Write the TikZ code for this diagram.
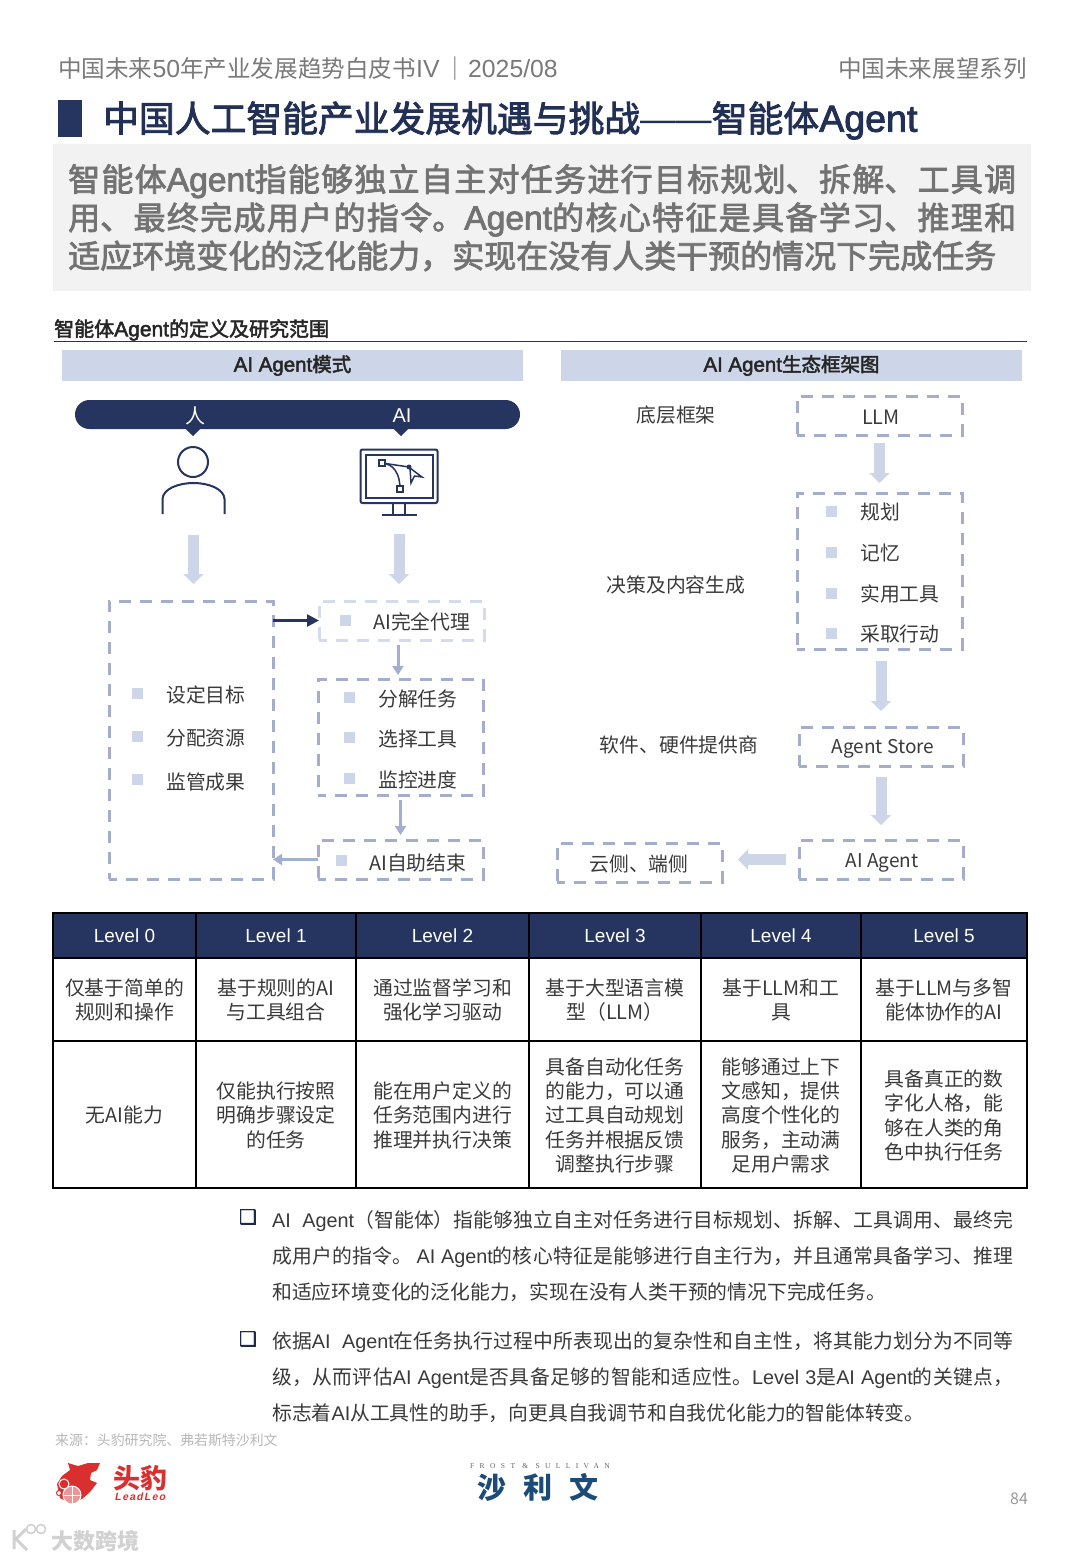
\documentclass[tikz,border=0pt]{standalone}
\usepackage{fontspec}
\setmainfont{Noto Sans CJK SC}
\XeTeXlinebreaklocale "zh"
\XeTeXlinebreakskip=0pt plus 2pt
\newfontfamily\medfont[FakeBold=2.4]{Noto Sans CJK SC}
\newfontfamily\latfont{Liberation Sans}
\newfontfamily\latwide[Scale=1.05]{Liberation Sans}
\newfontfamily\latmed[Scale=1.05,FakeBold=2.4]{Liberation Sans}
\newfontfamily\symbfont[FakeBold=1.5]{DejaVu Sans}
\newfontfamily\frostfont[LetterSpace=72]{Liberation Serif}
\newfontfamily\leofont[FakeSlant=0.2,LetterSpace=12]{Liberation Sans Bold}
\usetikzlibrary{arrows.meta}
\definecolor{navy}{HTML}{26355F}
\definecolor{paleblue}{HTML}{CDD5E8}
\definecolor{dashblue}{HTML}{A4AECC}
\definecolor{thinblue}{HTML}{A3AFD0}
\definecolor{bodytext}{HTML}{3A3A3A}
\definecolor{leored}{HTML}{D9302F}
\definecolor{frostblue}{HTML}{1D4B78}
\newcommand{\fs}[2]{\fontsize{#1}{#2}\selectfont}
\tikzset{
  dashbox/.style={draw=dashblue, line width=3pt, dash pattern=on 12pt off 9pt, dash phase=4pt, inner sep=0pt, outer sep=0pt},
  blockarrow/.style={paleblue, line width=11pt, -{Triangle[length=10pt, width=20pt]}},
  thinarrow/.style={thinblue, line width=3pt, -{Triangle[length=9pt, width=11pt]}},
  sqmark/.style={fill=paleblue, inner sep=0pt, minimum size=11pt},
  itemtext/.style={anchor=west, yshift=-0.5pt, inner sep=0pt, text=bodytext, font=\fs{19.8}{24}},
  centertext/.style={yshift=-0.5pt, inner sep=0pt, text=bodytext, font=\fs{19.8}{24}},
  headbar/.style={fill=paleblue, minimum width=461pt, minimum height=31pt, inner sep=0pt, text=black!85, font=\fs{19.5}{24}\medfont},
  headcell/.style={draw=black, line width=2.4pt, fill=navy, text=white, inner sep=0pt, minimum height=45pt, font=\fs{19}{24}\latfont},
  cell/.style={draw=black, line width=2.4pt, align=center, inner sep=0pt, text=bodytext, font=\fs{19.8}{24.3}},
  para/.style={anchor=north west, inner sep=0pt, text width=741pt, align=justify, text=bodytext, font=\fs{19.8}{36}},
  tickmark/.style={inner sep=0pt, text=navy!80!black, font=\symbfont\fs{20}{22}},
  iconline/.style={navy, line width=2pt}
}
\begin{document}
\begin{tikzpicture}[x=1pt,y=-1pt]
\useasboundingbox (0,0) rectangle (1080,1559);
\fill[white] (0,0) rectangle (1080,1559);

\node[anchor=west, inner sep=0pt, text=black!52, font=\fs{23.6}{28}] (doctitle) at (58,68.5) {中国未来{\latwide 50}年产业发展趋势白皮书{\latwide IV}\kern4pt｜\kern1pt{\latwide 2025/08}};
\node[anchor=east, inner sep=0pt, text=black!52, font=\fs{23.6}{28}] (series) at (1027,68.5) {中国未来展望系列};
\fill[navy] (58,100) rectangle (82,137);
\node[anchor=west, inner sep=0pt, text=navy!90!black, font=\fs{35.8}{40}\medfont] (pagetitle) at (103,120.5) {中国人工智能产业发展机遇与挑战{\latfont ——}智能体{\latmed Agent}};
\fill[black!5] (53,144) rectangle (1031,291);
\node[anchor=north west, inner sep=0pt, text width=948pt, align=justify, text=black!55, font=\fs{32}{38.3}\medfont] (summary) at (68,164) {智能体{\latmed Agent}指能够独立自主对任务进行目标规划、拆解、工具调\linebreak 用、最终完成用户的指令。{\latmed Agent}的核心特征是具备学习、推理和\linebreak 适应环境变化的泛化能力，实现在没有人类干预的情况下完成任务};

\node[anchor=west, inner sep=0pt, text=black!85, font=\fs{20}{22}\medfont] (section) at (54,330) {智能体{\latmed Agent}的定义及研究范围};
\draw[navy, line width=1pt] (54,341) -- (1027,341);
\node[headbar] (modebar) at (292.5,365.5) {\raisebox{-2.5pt}{{\latmed AI Agent}模式}};
\node[headbar] (ecobar) at (791.5,365.5) {\raisebox{-2.5pt}{{\latmed AI Agent}生态框架图}};

\node[fill=navy, rounded corners=14.5pt, minimum width=445pt, minimum height=29pt, inner sep=0pt] (pill) at (297.5,414.5) {};
\fill[navy] (186,429) -- (193,424) -- (200,429) -- (193,436) -- cycle;
\fill[navy] (394,429) -- (401,424) -- (408,429) -- (401,436) -- cycle;
\node[text=white, inner sep=0pt, font=\fs{20}{24}] (human) at (195,416) {人};
\node[text=white, inner sep=0pt, font=\fs{20}{24}\latfont] (ai) at (402,416) {AI};

\node[minimum width=62pt, minimum height=68pt, inner sep=0pt] (person) at (193.5,481) {};
\draw[iconline] (193,462) circle (15);
\draw[iconline] (162.5,514) -- (162.5,499) .. controls (163,489) and (178,483) .. (193.5,483) .. controls (209,483) and (224,489) .. (224.5,499) -- (224.5,514);

\node[minimum width=78pt, minimum height=66pt, inner sep=0pt] (monitor) at (399,482) {};
\draw[iconline, rounded corners=2pt] (360.5,449.5) rectangle (437.5,503);
\draw[iconline] (365.5,454.5) rectangle (432.5,497.5);
\draw[iconline] (393,503) -- (393,515) (405,503) -- (405,515) (382,515) -- (417,515);
\draw[iconline, line width=1.5pt] (382,463) .. controls (394,464) and (400,474) .. (400,489);
\draw[iconline, line width=1.5pt] (382,463) -- (409,467);
\filldraw[fill=white, draw=navy, line width=1.5pt] (379,460) rectangle (385,466);
\filldraw[fill=white, draw=navy, line width=1.5pt] (397,486) rectangle (403,492);
\fill[navy] (409,467) circle (2.5);
\draw[iconline, line width=1.5pt] (410,468) -- (422,477) -- (414.5,476) -- (411,483) -- cycle;

\node[dashbox, minimum width=164pt, minimum height=278pt] (goals) at (191,740) {};
\node[dashbox, draw=paleblue!85, minimum width=165pt, minimum height=39pt] (fullproxy) at (401.5,620.5) {};
\node[dashbox, minimum width=165pt, minimum height=116pt] (subtasks) at (400.5,737) {};
\node[dashbox, minimum width=165pt, minimum height=39pt] (selfend) at (400.5,859.5) {};

\node[sqmark] (goalsq1) at (137,693) {};
\node[sqmark] (goalsq2) at (137,736) {};
\node[sqmark] (goalsq3) at (137,779) {};
\node[itemtext] (goal1) at (166,694) {设定目标};
\node[itemtext] (goal2) at (166,737.5) {分配资源};
\node[itemtext] (goal3) at (166,781) {监管成果};
\node[sqmark] (proxysq) at (345,620) {};
\node[itemtext] (proxytext) at (373,621) {AI完全代理};
\node[sqmark] (tasksq1) at (349,697) {};
\node[sqmark] (tasksq2) at (349,737) {};
\node[sqmark] (tasksq3) at (349,778) {};
\node[itemtext] (task1) at (378,698) {分解任务};
\node[itemtext] (task2) at (378,738) {选择工具};
\node[itemtext] (task3) at (378,779) {监控进度};
\node[sqmark] (endsq) at (341,860) {};
\node[itemtext] (endtext) at (369,862) {AI自助结束};

\draw[blockarrow, shorten <=20pt, shorten >=17pt] (person.south) -- (person.south |- goals.north);
\draw[blockarrow, shorten <=19pt, shorten >=17pt] (monitor.south) -- (monitor.south |- fullproxy.north);
\draw[navy, line width=2.6pt, -{Triangle[length=12pt, width=12pt]}] (goals.east |- fullproxy) -- (fullproxy.west);
\draw[thinarrow, shorten <=5pt, shorten >=4pt] (fullproxy.south -| 398,0) -- (398,0 |- subtasks.north);
\draw[thinarrow, shorten <=5pt, shorten >=5pt] (subtasks.south) -- (subtasks.south |- selfend.north);
\draw[thinarrow] (selfend.west) -- (goals.east |- selfend);

\node[centertext] (layerbase) at (676,415) {底层框架};
\node[centertext] (layerdecide) at (676,584.5) {决策及内容生成};
\node[centertext] (layervendor) at (679,744.5) {软件、硬件提供商};
\node[dashbox, minimum width=165pt, minimum height=39pt] (llm) at (879.5,415.5) {};
\node[dashbox, minimum width=165pt, minimum height=156pt] (planbox) at (879.5,571) {};
\node[dashbox, minimum width=164pt, minimum height=39pt] (store) at (881,746.5) {};
\node[dashbox, minimum width=164pt, minimum height=39pt] (agent) at (881,859.5) {};
\node[dashbox, minimum width=165pt, minimum height=39pt] (cloud) at (639.5,862.5) {};
\node[centertext] (llmtext) at (881,416.5) {LLM};
\node[centertext, font=\fs{19}{24}] (storetext) at (883,748.5) {Agent Store};
\node[centertext, font=\fs{19}{24}] (agenttext) at (882,862) {AI Agent};
\node[centertext] (cloudtext) at (639,864) {云侧、端侧};
\node[sqmark] (plansq1) at (831,511) {};
\node[sqmark] (plansq2) at (831,552) {};
\node[sqmark] (plansq3) at (831,593) {};
\node[sqmark] (plansq4) at (831,633) {};
\node[itemtext] (plan1) at (860,511.5) {规划};
\node[itemtext] (plan2) at (860,552.5) {记忆};
\node[itemtext] (plan3) at (860,593.5) {实用工具};
\node[itemtext] (plan4) at (860,633.5) {采取行动};

\draw[blockarrow, shorten <=8pt, shorten >=10pt] (llm.south) -- (llm.south |- planbox.north);
\draw[blockarrow, shorten <=12pt, shorten >=16pt] (planbox.south -| store) -- (store.north);
\draw[blockarrow, shorten <=11pt, shorten >=15pt] (store.south) -- (agent.north);
\draw[blockarrow, shorten <=13pt, shorten >=16pt] (agent.west) -- (cloud.east |- agent);

\node[headcell, minimum width=143pt] (lvl0) at (124.5,935.5) {Level 0};
\node[headcell, minimum width=160pt] (lvl1) at (276,935.5) {Level 1};
\node[headcell, minimum width=173pt] (lvl2) at (442.5,935.5) {Level 2};
\node[headcell, minimum width=172pt] (lvl3) at (615,935.5) {Level 3};
\node[headcell, minimum width=160pt] (lvl4) at (781,935.5) {Level 4};
\node[headcell, minimum width=166pt] (lvl5) at (944,935.5) {Level 5};
\node[cell, text depth=1pt, minimum width=143pt, minimum height=83pt] (base0) at (124.5,999.5) {仅基于简单的\\规则和操作};
\node[cell, text depth=1pt, minimum width=160pt, minimum height=83pt] (base1) at (276,999.5) {基于规则的AI\\与工具组合};
\node[cell, text depth=1pt, minimum width=173pt, minimum height=83pt] (base2) at (442.5,999.5) {通过监督学习和\\强化学习驱动};
\node[cell, text depth=1pt, minimum width=172pt, minimum height=83pt] (base3) at (615,999.5) {基于大型语言模\\型（LLM）};
\node[cell, text depth=1pt, minimum width=160pt, minimum height=83pt] (base4) at (781,999.5) {基于LLM和工\\具};
\node[cell, text depth=1pt, minimum width=166pt, minimum height=83pt] (base5) at (944,999.5) {基于LLM与多智\\能体协作的AI};
\node[cell, text depth=0pt, minimum width=143pt, minimum height=147pt] (abil0) at (124.5,1114.5) {无AI能力};
\node[cell, text depth=0pt, minimum width=160pt, minimum height=147pt] (abil1) at (276,1114.5) {仅能执行按照\\明确步骤设定\\的任务};
\node[cell, text depth=0pt, minimum width=173pt, minimum height=147pt] (abil2) at (442.5,1114.5) {能在用户定义的\\任务范围内进行\\推理并执行决策};
\node[cell, text depth=0pt, minimum width=172pt, minimum height=147pt] (abil3) at (615,1114.5) {具备自动化任务\\的能力，可以通\\过工具自动规划\\任务并根据反馈\\调整执行步骤};
\node[cell, text depth=0pt, minimum width=160pt, minimum height=147pt] (abil4) at (781,1114.5) {能够通过上下\\文感知，提供\\高度个性化的\\服务，主动满\\足用户需求};
\node[cell, text depth=0pt, minimum width=166pt, minimum height=147pt] (abil5) at (944,1114.5) {具备真正的数\\字化人格，能\\够在人类的角\\色中执行任务};

\node[tickmark] (tick1) at (248,1217) {❑};
\node[para] (note1) at (272,1210) {{\latfont AI\ \ Agent}（智能体）指能够独立自主对任务进行目标规划、拆解、工具调用、最终完\linebreak 成用户的指令。 {\latfont AI Agent}的核心特征是能够进行自主行为，并且通常具备学习、推理\linebreak 和适应环境变化的泛化能力，实现在没有人类干预的情况下完成任务。};
\node[tickmark] (tick2) at (248,1339) {❑};
\node[para] (note2) at (272,1332) {依据{\latfont AI\ \ Agent}在任务执行过程中所表现出的复杂性和自主性，将其能力划分为不同等\linebreak 级，从而评估{\latfont AI Agent}是否具备足够的智能和适应性。{\latfont Level 3}是{\latfont AI Agent}的关键点，\linebreak 标志着{\latfont AI}从工具性的助手，向更具自我调节和自我优化能力的智能体转变。};

\node[anchor=west, inner sep=0pt, text=black!28, font=\fs{13.9}{16}] (source) at (55,1440) {来源：头豹研究院、弗若斯特沙利文};
\fill[leored] (57,1484) -- (62,1476) -- (70,1470) -- (68,1463) -- (78,1466) -- (88,1463) -- (100,1463) -- (97,1470) -- (91,1473) -- (90,1480) -- (97,1483) -- (90,1492) -- (82,1499) -- (70,1503) -- (60,1498) -- cycle;
\filldraw[fill=leored!50, draw=white, line width=1pt] (72,1495) circle (9);
\draw[white, line width=1pt] (72,1486) -- (72,1504) (63,1495) -- (81,1495);
\filldraw[fill=leored, draw=white, line width=1pt] (64,1484) circle (5);
\filldraw[fill=white, draw=leored, line width=1pt] (59,1493) circle (2.5);
\node[inner sep=0pt, text=leored, font=\fs{27}{30}\bfseries] (leoname) at (140,1478) {头豹};
\node[inner sep=0pt, text=leored, font=\leofont\fs{10.5}{13}] (leolatin) at (140,1497) {LeadLeo};
\node[inner sep=0pt, text=black!60, font=\frostfont\fs{7.5}{9}] (frost) at (540,1466) {FROST \& SULLIVAN};
\node[inner sep=0pt, text=frostblue, font=\fs{29}{32}\bfseries] (shaliwen) at (538,1487) {沙\hspace{17pt}利\hspace{17pt}文};
\node[inner sep=0pt, text=black!40, font=\fs{16}{18}] (pageno) at (1019,1499) {84};
\draw[black!18, line width=3pt] (14,1530) -- (14,1549) (26,1529) -- (16,1539) -- (27,1550);
\draw[black!18, line width=1.6pt] (31,1529) circle (4.5) (41,1529) circle (4.5);
\node[anchor=west, inner sep=0pt, text=black!18, font=\fs{22}{24}\bfseries] (mark) at (51,1541) {大数跨境};
\end{tikzpicture}
\end{document}
